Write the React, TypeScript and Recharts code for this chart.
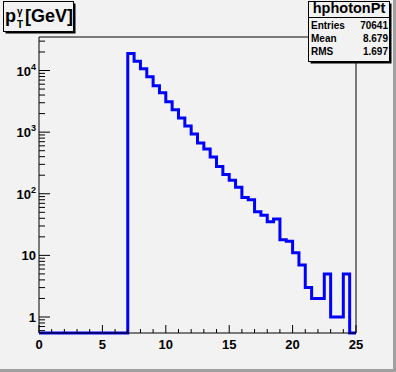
import React from 'react';
import { LineChart, Line, XAxis, YAxis, ReferenceLine } from 'recharts';

// histogram hphotonPt, 0.5 GeV bins from 0 to 25
const binWidth = 0.5;
const xMin = 0;
const xMax = 25;
const counts = [
  0, 0, 0, 0, 0, 0, 0, 0, 0, 0, 0, 0, 0, 0,
  18900, 14200, 10700, 7900, 5640, 4340, 3100, 2300, 1700, 1260,
  935, 667, 533, 395, 278, 206, 165, 128, 87, 80,
  51, 45, 35, 39, 18, 17, 11, 7, 3, 2,
  2, 5, 1, 1, 5, 0,
];

const xTicks = [0, 1, 2, 3, 4, 5, 6, 7, 8, 9, 10, 11, 12, 13, 14, 15, 16, 17, 18, 19, 20, 21, 22, 23, 24, 25];
const xMajor = [0, 5, 10, 15, 20, 25];
const yMajor = [1, 10, 100, 1000, 10000];
const yTicks = [
  0.6, 0.7, 0.8, 0.9, 1, 2, 3, 4, 5, 6, 7, 8, 9, 10,
  20, 30, 40, 50, 60, 70, 80, 90, 100,
  200, 300, 400, 500, 600, 700, 800, 900, 1000,
  2000, 3000, 4000, 5000, 6000, 7000, 8000, 9000, 10000, 20000, 30000,
];

const histName = 'hphotonPt';
const statLabels = ['Entries', 'Mean', 'RMS'];
const statValues = ['70641', '8.679', '1.697'];

const Y_MIN = 0.55;
const Y_MAX = 35000;

const W = 396;
const H = 372;
const PLOT_LEFT = 39;
const PLOT_RIGHT = 356;
const PLOT_TOP = 37;
const PLOT_BOTTOM = 333;
const BG = '#f2f2f2';
const FONT = '"Liberation Sans", Arial, sans-serif';

// step points at bin edges, empty bins sit on the frame bottom
const data = counts.map((c, i) => ({ x: xMin + i * binWidth, y: Math.max(c, Y_MIN) }));
data.push({ x: xMax, y: Math.max(counts[counts.length - 1], Y_MIN) });

const XTick = (props: any) => {
  const v = props.payload.value;
  const cx = props.payload.coordinate;
  const major = xMajor.includes(v);
  return (
    <g>
      <line x1={cx} x2={cx} y1={PLOT_BOTTOM} y2={PLOT_BOTTOM - (major ? 8 : 4)} stroke="#000" />
      {major && (
        <text x={cx} y={PLOT_BOTTOM + 15.5} textAnchor="middle" fontFamily={FONT} fontWeight="bold" fontSize={13} fill="#000">
          {v}
        </text>
      )}
    </g>
  );
};

const YTick = (props: any) => {
  const v = props.payload.value;
  const cy = props.payload.coordinate;
  const major = yMajor.some((m) => Math.abs(m - v) < 1e-6 * m);
  const exp = Math.round(Math.log10(v));
  return (
    <g>
      <line x1={PLOT_LEFT} x2={PLOT_LEFT + (major ? 11 : 6)} y1={cy} y2={cy} stroke="#000" />
      {major && (
        <text x={36} y={cy + 5} textAnchor="end" fontFamily={FONT} fontWeight="bold" fontSize={13} fill="#000">
          {exp === 0 ? '1' : '10'}
          {exp > 1 && (
            <tspan fontSize={9} dy={-6}>
              {exp}
            </tspan>
          )}
        </text>
      )}
    </g>
  );
};

export default function App() {
  return (
    <div style={{ position: 'absolute', left: 0, top: 0, width: W, height: H, background: BG, overflow: 'hidden' }}>
      <LineChart width={W} height={H} data={data} margin={{ top: PLOT_TOP, right: W - PLOT_RIGHT, left: 0, bottom: 0 }}>
        <XAxis
          dataKey="x"
          type="number"
          domain={[xMin, xMax]}
          ticks={xTicks}
          interval={0}
          height={H - PLOT_BOTTOM}
          tickLine={false}
          axisLine={{ stroke: '#000' }}
          tick={(p: any) => <XTick {...p} />}
        />
        <YAxis
          type="number"
          scale="log"
          domain={[Y_MIN, Y_MAX]}
          ticks={yTicks}
          interval={0}
          width={PLOT_LEFT}
          tickLine={false}
          axisLine={{ stroke: '#000' }}
          tick={(p: any) => <YTick {...p} />}
        />
        <ReferenceLine y={Y_MAX} stroke="#000" strokeWidth={1} />
        <ReferenceLine x={xMax} stroke="#000" strokeWidth={1} />
        <Line
          type="stepAfter"
          dataKey="y"
          stroke="#0000ff"
          strokeWidth={3}
          strokeLinejoin="miter"
          dot={false}
          activeDot={false}
          isAnimationActive={false}
        />
      </LineChart>

      <svg width={W} height={H} style={{ position: 'absolute', left: 0, top: 0, pointerEvents: 'none' }}>
        {/* title box */}
        <rect x={5.5} y={3.5} width={70} height={30} fill="#000" />
        <rect x={3.5} y={1.5} width={70} height={30} fill={BG} stroke="#000" />
        <text x={5} y={22} fontFamily={FONT} fontWeight="bold" fontSize={18} fill="#000">p</text>
        <text x={17} y={15} fontFamily={FONT} fontWeight="bold" fontSize={10} fill="#000">γ</text>
        <text x={17} y={28} fontFamily={FONT} fontWeight="bold" fontSize={10} fill="#000">T</text>
        <text x={25} y={22} fontFamily={FONT} fontWeight="bold" fontSize={18} fill="#000">[GeV]</text>

        {/* stats box */}
        <rect x={310.5} y={3.5} width={81} height={60} fill="#000" />
        <rect x={308.5} y={1.5} width={81} height={60} fill={BG} stroke="#000" />
        <line x1={308.5} x2={389.5} y1={17.5} y2={17.5} stroke="#000" />
        <text x={349} y={12.5} textAnchor="middle" fontFamily={FONT} fontWeight="bold" fontSize={14.5} fill="#000">
          {histName}
        </text>
        {statLabels.map((lab, i) => (
          <g key={lab}>
            <text x={311} y={28.5 + i * 13.3} fontFamily={FONT} fontWeight="bold" fontSize={10} fill="#000">{lab}</text>
            <text x={388} y={28.5 + i * 13.3} textAnchor="end" fontFamily={FONT} fontWeight="bold" fontSize={10} fill="#000">
              {statValues[i]}
            </text>
          </g>
        ))}

        {/* canvas bevel */}
        <rect x={W - 3} y={0} width={3} height={H} fill="#a0a0a0" />
        <rect x={0} y={H - 3} width={W} height={3} fill="#a0a0a0" />
      </svg>
    </div>
  );
}
